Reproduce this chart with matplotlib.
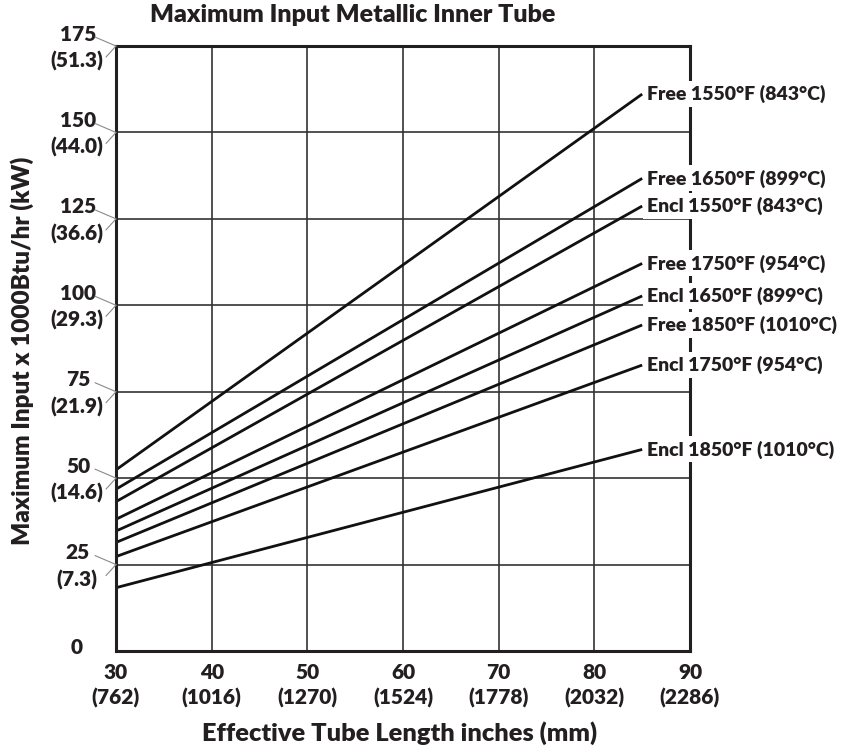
import matplotlib.pyplot as plt
import matplotlib.transforms as mtransforms

# Data: effective tube length (in) vs max input (x1000 Btu/hr)
lengths = [30, 85]
series_names = [
    "Free 1550°F (843°C)",
    "Free 1650°F (899°C)",
    "Encl 1550°F (843°C)",
    "Free 1750°F (954°C)",
    "Encl 1650°F (899°C)",
    "Free 1850°F (1010°C)",
    "Encl 1750°F (954°C)",
    "Encl 1850°F (1010°C)",
]
free_1550 = [52.4, 161.1]
free_1650 = [46.8, 136.7]
encl_1550 = [43.2, 128.7]
free_1750 = [38.1, 112.1]
encl_1650 = [34.7, 102.7]
free_1850 = [31.4, 94.3]
encl_1750 = [27.3, 82.7]
encl_1850 = [18.3, 58.3]
series_values = [free_1550, free_1650, encl_1550, free_1750,
                 encl_1650, free_1850, encl_1750, encl_1850]

x_ticks = [30, 40, 50, 60, 70, 80, 90]
x_mm = ["(762)", "(1016)", "(1270)", "(1524)", "(1778)", "(2032)", "(2286)"]
y_ticks = [0, 25, 50, 75, 100, 125, 150, 175]
y_kw = ["", "(7.3)", "(14.6)", "(21.9)", "(29.3)", "(36.6)", "(44.0)", "(51.3)"]

plt.rcParams['font.family'] = ['Lato', 'DejaVu Sans']
txt = dict(fontweight='heavy', color='#231f20')

fig = plt.figure(figsize=(8.43, 7.51), dpi=100)
ax = fig.add_axes([0.1376, 0.1332, 0.6809, 0.8055])
ax.set_xlim(30, 90)
ax.set_ylim(0, 175)

# grid
for gx in x_ticks[1:-1]:
    ax.axvline(gx, color='#333333', lw=1.2, zorder=1)
for gy in y_ticks[1:-1]:
    ax.axhline(gy, color='#333333', lw=1.2, zorder=1)

for vals in series_values:
    ax.plot(lengths, vals, color='#111111', lw=2.0, zorder=2, solid_capstyle='butt')

# end labels with white background (they break the right border)
for name, vals in zip(series_names, series_values):
    ax.annotate(name, xy=(lengths[-1], vals[-1]), xytext=(5, 0),
                textcoords='offset pixels', ha='left', va='center', fontsize=14,
                bbox=dict(boxstyle='square,pad=0.2', fc='white', ec='none'),
                annotation_clip=False, zorder=5, **txt)

for sp in ax.spines.values():
    sp.set_linewidth(2.2)
    sp.set_color('#231f20')
ax.set_xticks([])
ax.set_yticks([])

px = lambda dx, dy: mtransforms.ScaledTranslation(dx / 100, dy / 100, fig.dpi_scale_trans)
ytrans = ax.get_yaxis_transform()
xtrans = ax.get_xaxis_transform()

# y tick labels with little grey leader lines
for val, kw in zip(y_ticks, y_kw):
    if val == 0:
        ax.text(0, val, "0", transform=ytrans + px(-39, 3), ha='center', va='center',
                fontsize=15, clip_on=False, **txt)
        continue
    ax.text(0, val, str(val), transform=ytrans + px(-38, 12), ha='center', va='center',
            fontsize=15, clip_on=False, **txt)
    ax.text(0, val, kw, transform=ytrans + px(-39, -15), ha='center', va='center',
            fontsize=15, clip_on=False, **txt)
    for dx, dy in [(-21, 9), (-10, -11)]:
        ax.annotate("", xy=(0, val), xycoords=ytrans,
                    xytext=(dx, dy), textcoords='offset pixels',
                    arrowprops=dict(arrowstyle='-', color='#8a8a8a', lw=0.8,
                                    shrinkA=0, shrinkB=0), annotation_clip=False)

# x tick labels
for val, mm in zip(x_ticks, x_mm):
    ax.text(val, 0, str(val), transform=xtrans + px(0, -22), ha='center', va='center',
            fontsize=15, clip_on=False, **txt)
    ax.text(val, 0, mm, transform=xtrans + px(0, -47), ha='center', va='center',
            fontsize=15, clip_on=False, **txt)

fig.text(353 / 843, 1 - 15 / 751, "Maximum Input Metallic Inner Tube", ha='center',
         va='center', fontsize=18, **txt)
fig.text(400 / 843, 1 - 733 / 751, "Effective Tube Length inches (mm)", ha='center',
         va='center', fontsize=18.3, **txt)
fig.text(22 / 843, 1 - 351 / 751, "Maximum Input x 1000Btu/hr (kW)", ha='center',
         va='center', rotation=90, fontsize=17.5, **txt)

fig.savefig("out.png", dpi=100, facecolor='white')
